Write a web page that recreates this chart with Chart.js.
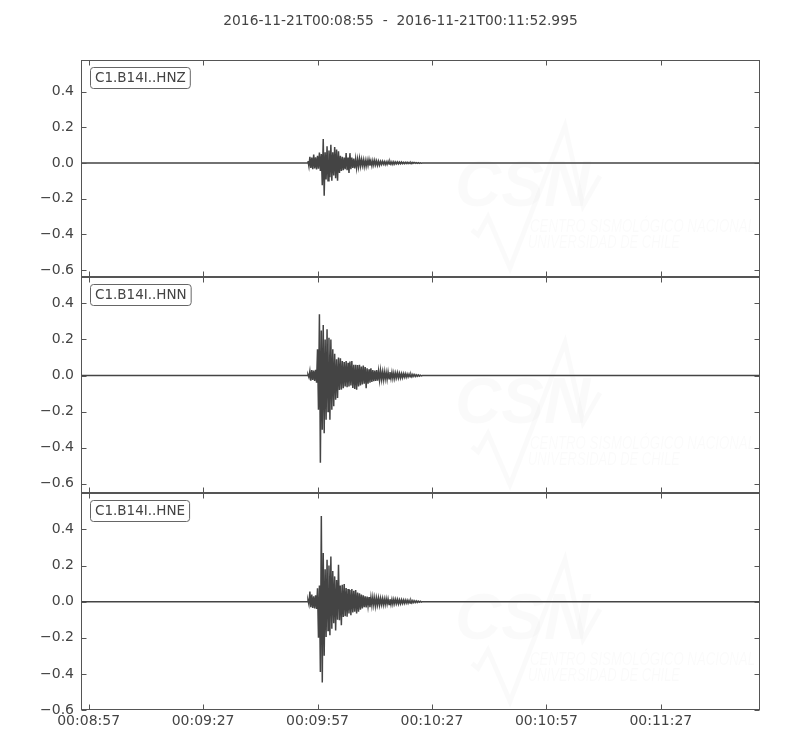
<!DOCTYPE html>
<html>
<head>
<meta charset="utf-8">
<script src="https://cdn.jsdelivr.net/npm/chart.js@4.4.1/dist/chart.umd.min.js"></script>
<style>
    html, body { margin: 0; padding: 0; background: #fff; }
    #wrap { position: relative; width: 800px; height: 750px; }
</style>
</head>
<body>
<div id="wrap"><canvas id="seismo-chart" width="800" height="750"></canvas></div>
<script>
const traceTitle = "2016-11-21T00:08:55  -  2016-11-21T00:11:52.995";
const startSeconds = 8 * 60 + 55; // 00:08:55
const traceLength = 177.995;      // seconds shown on the x axis
const channels = ["C1.B14I..HNZ", "C1.B14I..HNN", "C1.B14I..HNE"];
const timeTicks = [2, 32, 62, 92, 122, 152];
const ampTicks = [-0.6, -0.4, -0.2, 0, 0.2, 0.4];
const yLimits = [[-0.637, 0.577], [-0.653, 0.548], [-0.6, 0.6]];

// samples, one every 0.25 s from 59.5 s on
const sampleStart = 59.5;
const sampleStep = 0.25;

const hnz = [
    0.010, -0.020, 0.035, -0.028, 0.030, -0.035, 0.047, -0.030, 0.032, -0.036,
    0.040, -0.032, 0.058, -0.045, 0.050, -0.125, 0.134, -0.183, 0.060, -0.093,
    0.093, -0.100, 0.070, -0.080, 0.102, -0.100, 0.060, -0.070, 0.090, -0.085,
    0.075, -0.100, 0.065, -0.056, 0.040, -0.045, 0.035, -0.040, 0.030, -0.035,
    0.056, -0.040, 0.030, -0.056, 0.055, -0.035, 0.030, -0.028, 0.025, -0.030,
    0.022, -0.028, 0.020, -0.022, 0.025, -0.018, 0.020, -0.015, 0.018, -0.020,
    0.015, -0.018, 0.016, -0.014, 0.019, -0.015, 0.012, -0.016, 0.014, -0.012,
    0.015, -0.011, 0.012, -0.013, 0.010, -0.012, 0.009, -0.008, 0.010, -0.007,
    0.008, -0.009, 0.007, -0.008, 0.009, -0.006, 0.008, -0.007, 0.006, -0.008,
    0.007, -0.006, 0.006, -0.005, 0.006, -0.005, 0.005, -0.004, 0.005, -0.004,
    0.004, -0.004, 0.004, -0.003, 0.004, -0.003, 0.003, -0.003, 0.003, -0.003,
    0.003, -0.002, 0.003, -0.002, 0.002, -0.002, 0.002, -0.002, 0.001, -0.001
];
const hnn = [
    0.005, -0.010, 0.025, -0.028, 0.030, -0.025, 0.028, -0.030, 0.032, -0.040,
    0.145, -0.190, 0.340, -0.484, 0.250, -0.300, 0.280, -0.320, 0.200, -0.245,
    0.257, -0.200, 0.210, -0.245, 0.200, -0.190, 0.145, -0.170, 0.120, -0.134,
    0.090, -0.125, 0.100, -0.080, 0.095, -0.078, 0.080, -0.070, 0.075, -0.060,
    0.080, -0.065, 0.070, -0.060, 0.078, -0.055, 0.080, -0.069, 0.060, -0.075,
    0.060, -0.078, 0.058, -0.060, 0.060, -0.055, 0.050, -0.050, 0.055, -0.045,
    0.047, -0.070, 0.040, -0.045, 0.035, -0.040, 0.040, -0.035, 0.030, -0.032,
    0.028, -0.030, 0.030, -0.028, 0.025, -0.026, 0.028, -0.022, 0.020, -0.024,
    0.022, -0.020, 0.018, -0.022, 0.020, -0.018, 0.019, -0.016, 0.018, -0.017,
    0.015, -0.017, 0.014, -0.013, 0.015, -0.013, 0.012, -0.013, 0.011, -0.012,
    0.011, -0.009, 0.010, -0.010, 0.008, -0.008, 0.008, -0.007, 0.007, -0.007,
    0.006, -0.005, 0.005, -0.005, 0.004, -0.004, 0.003, -0.003, 0.002, -0.002
];
const hne = [
    0.008, -0.015, 0.056, -0.030, 0.040, -0.035, 0.030, -0.037, 0.035, -0.040,
    0.074, -0.200, 0.090, -0.390, 0.475, -0.447, 0.270, -0.300, 0.180, -0.195,
    0.232, -0.160, 0.200, -0.186, 0.250, -0.150, 0.170, -0.120, 0.140, -0.160,
    0.120, -0.100, 0.205, -0.103, 0.090, -0.130, 0.093, -0.085, 0.098, -0.080,
    0.075, -0.083, 0.070, -0.065, 0.065, -0.075, 0.070, -0.060, 0.060, -0.055,
    0.065, -0.065, 0.050, -0.055, 0.046, -0.045, 0.040, -0.037, 0.035, -0.030,
    0.030, -0.032, 0.028, -0.025, 0.026, -0.030, 0.024, -0.022, 0.025, -0.020,
    0.022, -0.024, 0.020, -0.018, 0.020, -0.019, 0.018, -0.016, 0.017, -0.018,
    0.015, -0.016, 0.017, -0.014, 0.016, -0.015, 0.014, -0.016, 0.013, -0.015,
    0.013, -0.012, 0.013, -0.011, 0.012, -0.012, 0.010, -0.011, 0.010, -0.010,
    0.009, -0.009, 0.009, -0.008, 0.008, -0.008, 0.007, -0.007, 0.007, -0.006,
    0.006, -0.005, 0.005, -0.005, 0.004, -0.004, 0.003, -0.003, 0.002, -0.002
];
const channelValues = [hnz, hnn, hne];

const textColor = "#444";
const lineColor = "#444";
const fontFamily = "'DejaVu Sans', sans-serif";

function toPoints(values) {
    // flat trace before and after the recorded samples
    const pts = [{ x: 0, y: 0 }, { x: sampleStart - sampleStep, y: 0 }];
    values.forEach(function (v, i) {
        pts.push({ x: sampleStart + i * sampleStep, y: v });
    });
    pts.push({ x: sampleStart + values.length * sampleStep, y: 0 });
    pts.push({ x: traceLength, y: 0 });
    return pts;
}

function pad2(n) {
    return (n < 10 ? "0" : "") + n;
}

function formatTime(v) {
    const total = Math.round(startSeconds + v);
    return "00:" + pad2(Math.floor(total / 60)) + ":" + pad2(total % 60);
}

function formatAmp(v) {
    if (Math.abs(v) < 1e-9) return "0.0";
    return (v < 0 ? "\u2212" : "") + Math.abs(v).toFixed(1);
}

const scales = {
    x: {
        type: "linear",
        min: 0,
        max: traceLength,
        grid: { display: false, drawTicks: false },
        border: { display: false },
        afterBuildTicks: function (scale) {
            scale.ticks = timeTicks.map(function (v) { return { value: v }; });
        },
        afterFit: function (scale) { scale.height = 40; },
        ticks: {
            color: textColor,
            font: { family: fontFamily, size: 14 },
            padding: 3,
            maxRotation: 0,
            autoSkip: false,
            callback: function (v) { return formatTime(v); },
        },
    },
};

// stacked left axes are laid out last-defined on top, so add them bottom-up
for (let k = channels.length - 1; k >= 0; k--) {
    scales["y" + k] = {
        type: "linear",
        position: "left",
        stack: "traces",
        stackWeight: 1,
        min: yLimits[k][0],
        max: yLimits[k][1],
        grid: { display: false, drawTicks: false },
        border: { display: false },
        afterBuildTicks: function (scale) {
            scale.ticks = ampTicks.map(function (v) { return { value: v }; });
        },
        afterFit: function (scale) { scale.width = 81; },
        ticks: {
            color: textColor,
            font: { family: fontFamily, size: 14 },
            padding: 7,
            callback: function (v) { return formatAmp(v); },
        },
    };
}

const datasets = channels.map(function (name, k) {
    return {
        label: name,
        data: toPoints(channelValues[k]),
        yAxisID: "y" + k,
        borderColor: lineColor,
        borderWidth: 1.5,
        pointRadius: 0,
        tension: 0,
        fill: false,
    };
});

function drawWatermark(ctx, area, top) {
    ctx.save();
    ctx.beginPath();
    ctx.rect(area.left, top, area.right - area.left, 216);
    ctx.clip();
    ctx.fillStyle = "rgba(0,0,0,0.02)";
    ctx.strokeStyle = "rgba(0,0,0,0.02)";
    ctx.font = "italic bold 64px 'Liberation Sans Narrow', 'Liberation Sans', sans-serif";
    ctx.textBaseline = "alphabetic";
    ctx.textAlign = "left";
    ctx.fillText("CSN", 455, top + 146);

    const lines = [["CENTRO SISMOL\u00d3GICO NACIONAL", 530, top + 172, 225], ["UNIVERSIDAD DE CHILE", 528, top + 188, 152]];
    ctx.font = "italic 18px 'Liberation Sans Narrow', 'Liberation Sans', sans-serif";
    lines.forEach(function (l) {
        const w = ctx.measureText(l[0]).width;
        ctx.save();
        ctx.translate(l[1], l[2]);
        ctx.scale(l[3] / w, 1);
        ctx.fillText(l[0], 0, 0);
        ctx.restore();
    });

    ctx.lineWidth = 5;
    ctx.beginPath();
    ctx.moveTo(472, top + 170);
    ctx.lineTo(478, top + 175);
    ctx.lineTo(483, top + 166);
    ctx.lineTo(488, top + 157);
    ctx.lineTo(510, top + 208);
    ctx.lineTo(565, top + 66);
    ctx.lineTo(583, top + 146);
    ctx.lineTo(600, top + 116);
    ctx.stroke();
    ctx.restore();
}

const panelPlugin = {
    id: "panels",
    beforeDatasetsDraw: function (chart) {
        const ctx = chart.ctx;
        channels.forEach(function (name, k) {
            drawWatermark(ctx, chart.chartArea, chart.scales["y" + k].top);
        });
    },
    afterDatasetsDraw: function (chart) {
        const ctx = chart.ctx;
        const area = chart.chartArea;
        const xs = chart.scales.x;
        const left = Math.round(area.left) + 0.5;
        const right = Math.round(area.right) - 0.5;
        ctx.save();
        ctx.strokeStyle = "#555";
        ctx.lineWidth = 1;
        channels.forEach(function (name, k) {
            const ys = chart.scales["y" + k];
            const top = Math.round(ys.top) + 0.5;
            const bottom = Math.round(ys.bottom) - 0.5;

            // inward ticks on all four sides
            ctx.beginPath();
            ampTicks.forEach(function (v) {
                const py = Math.round(ys.getPixelForValue(v)) + 0.5;
                ctx.moveTo(left, py);
                ctx.lineTo(left + 5, py);
                ctx.moveTo(right, py);
                ctx.lineTo(right - 5, py);
            });
            timeTicks.forEach(function (v) {
                const px = Math.round(xs.getPixelForValue(v)) + 0.5;
                ctx.moveTo(px, bottom);
                ctx.lineTo(px, bottom - 5);
                ctx.moveTo(px, top);
                ctx.lineTo(px, top + 5);
            });
            ctx.stroke();

            ctx.strokeRect(left, top, right - left, bottom - top);

            // channel label box
            ctx.font = "13.5px " + fontFamily;
            const tw = ctx.measureText(name).width;
            const bx = left + 9, by = top + 7, bw = tw + 9, bh = 21;
            ctx.beginPath();
            ctx.roundRect(bx, by, bw, bh, 3);
            ctx.fillStyle = "#fff";
            ctx.fill();
            ctx.strokeStyle = "#666";
            ctx.stroke();
            ctx.fillStyle = textColor;
            ctx.textBaseline = "middle";
            ctx.textAlign = "left";
            ctx.fillText(name, bx + 4.5, by + bh / 2 + 0.5);
            ctx.strokeStyle = "#555";
        });

        ctx.font = "13.8px " + fontFamily;
        ctx.fillStyle = textColor;
        ctx.textAlign = "center";
        ctx.textBaseline = "middle";
        ctx.fillText(traceTitle, 400.5, 21);
        ctx.restore();
    },
};

const seismoChart = new Chart(document.getElementById("seismo-chart"), {
    type: "line",
    data: { datasets: datasets },
    options: {
        responsive: false,
        animation: false,
        layout: { padding: { top: 60, right: 40, left: 0, bottom: 0 } },
        scales: scales,
        plugins: {
            legend: { display: false },
            tooltip: { enabled: false },
            title: { display: false },
        },
    },
    plugins: [panelPlugin],
});
</script>
</body>
</html>
